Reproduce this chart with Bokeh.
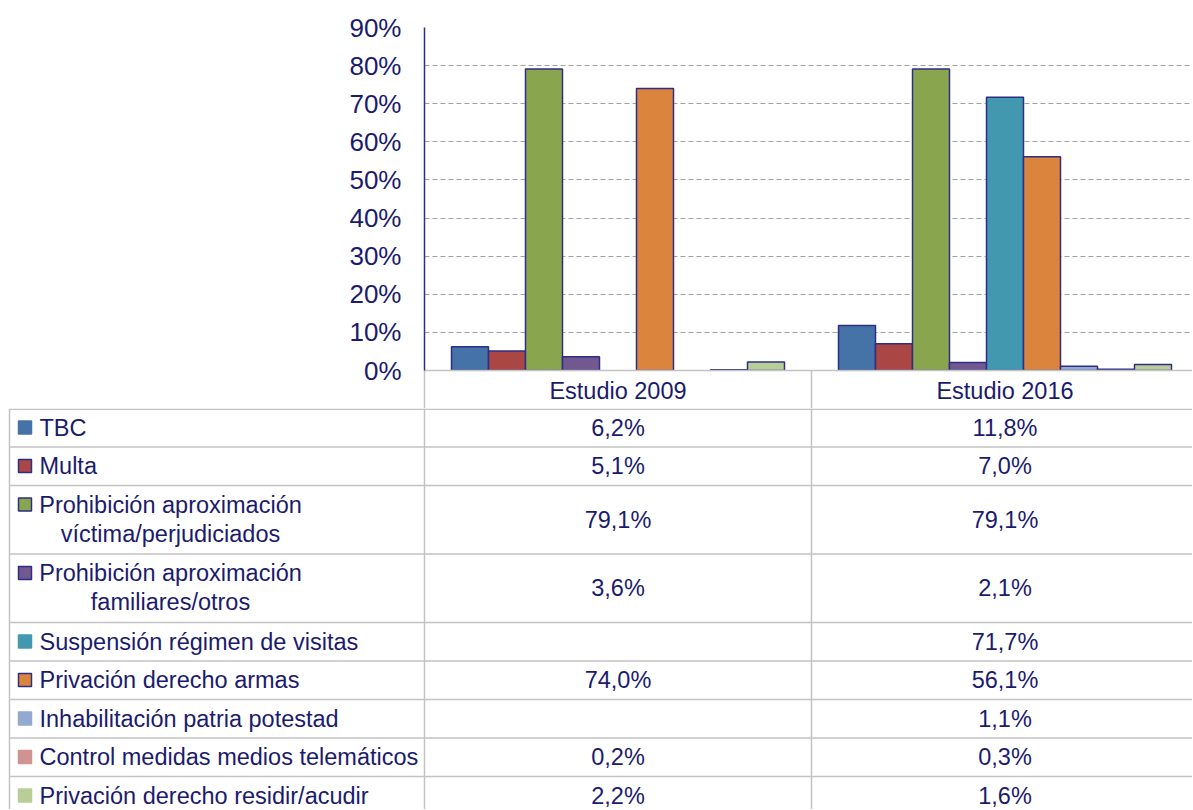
from bokeh.plotting import figure
from bokeh.models import Range1d, FixedTicker, NumeralTickFormatter, ColumnDataSource
from bokeh.embed import file_html
from bokeh.resources import INLINE
from bokeh.core.properties import value

# ---------------- data ----------------
years = ["Estudio 2009", "Estudio 2016"]
series = [
    "TBC",
    "Multa",
    "Prohibición aproximación víctima/perjudiciados",
    "Prohibición aproximación familiares/otros",
    "Suspensión régimen de visitas",
    "Privación derecho armas",
    "Inhabilitación patria potestad",
    "Control medidas medios telemáticos",
    "Privación derecho residir/acudir",
]
label_lines = [
    ["TBC"],
    ["Multa"],
    ["Prohibición aproximación", "víctima/perjudiciados"],
    ["Prohibición aproximación", "familiares/otros"],
    ["Suspensión régimen de visitas"],
    ["Privación derecho armas"],
    ["Inhabilitación patria potestad"],
    ["Control medidas medios telemáticos"],
    ["Privación derecho residir/acudir"],
]
v2009 = [6.2, 5.1, 79.1, 3.6, None, 74.0, None, 0.2, 2.2]
v2016 = [11.8, 7.0, 79.1, 2.1, 71.7, 56.1, 1.1, 0.3, 1.6]
y_ticks = [0, 10, 20, 30, 40, 50, 60, 70, 80, 90]

# ---------------- style ----------------
colors = ["#4572A7", "#AA4643", "#89A54E", "#71588F", "#4198AF",
          "#DB843D", "#93A9CF", "#D19392", "#B9CD96"]
NAVY = "#1B1B6E"
BORDER = "#2E2E85"
legend_border = [False, True, True, True, False, True, False, False, False]
FONT = value("Liberation Sans")
FONT_SIZE = value("23.5px")
GRAYLINE = "#C3C3C3"

W = 1192
HEADER_H = 38
TOP = 27
FRAME_H = 343
H1 = TOP + FRAME_H + HEADER_H
H2 = 809 - H1
CAT_PX = 387.0          # pixel width of one category
BAR_PX = 37.0           # pixel width of one bar
FRAME_L = 424
BW = BAR_PX / CAT_PX

# ---------------- chart ----------------
xs, tops, fills, lines = [], [], [], []
for g, vals in enumerate([v2009, v2016]):
    for i, v in enumerate(vals):
        if v is None:
            continue
        xs.append(g + (i - (len(series) - 1) / 2) * BW)
        tops.append(v / 100.0)
        fills.append(colors[i])
        lines.append(BORDER)
src = ColumnDataSource(dict(x=xs, top=tops, color=fills, line=lines))

p1 = figure(width=W, height=H1,
            x_range=Range1d(-0.5, -0.5 + (W - FRAME_L) / CAT_PX),
            y_range=Range1d(0, 0.9),
            output_backend="svg", toolbar_location=None,
            min_border_left=FRAME_L, min_border_right=0,
            min_border_top=TOP, min_border_bottom=HEADER_H)
p1.outline_line_color = None
p1.vbar(x="x", top="top", bottom=0, width=BW, fill_color="color",
        line_color="line", line_width=1.5, source=src)

ax = p1.yaxis[0]
ax.ticker = FixedTicker(ticks=[t / 100 for t in y_ticks])
ax.formatter = NumeralTickFormatter(format="0%")
ax.axis_line_color = BORDER
ax.axis_line_width = 1.5
ax.major_tick_line_color = None
ax.minor_tick_line_color = None
ax.major_tick_out = 0
ax.major_label_standoff = 23
ax.major_label_text_font = "Liberation Sans"
ax.major_label_text_font_size = "26px"
ax.major_label_text_color = NAVY

xa = p1.xaxis[0]
xa.ticker = FixedTicker(ticks=[0, 1], minor_ticks=[-0.5, 0.5, 1.5])
xa.major_label_overrides = {0: years[0], 1: years[1]}
xa.axis_line_color = GRAYLINE
xa.axis_line_width = 1.5
xa.major_tick_line_color = None
xa.major_tick_out = 0
xa.major_tick_in = 0
xa.minor_tick_line_color = GRAYLINE
xa.minor_tick_line_width = 1.5
xa.minor_tick_out = HEADER_H
xa.minor_tick_in = 0
xa.major_label_standoff = -31
xa.major_label_text_font = "Liberation Sans"
xa.major_label_text_font_size = "23.5px"
xa.major_label_text_color = NAVY

p1.xgrid.visible = False
p1.ygrid.grid_line_color = "#A3A3A3"
p1.ygrid.grid_line_dash = "5 3"
p1.ygrid.grid_line_width = 1.2

# ---------------- data table ----------------
p2 = figure(width=W, height=H2, x_range=Range1d(0, W), y_range=Range1d(H2, 0),
            x_axis_type=None, y_axis_type=None,
            output_backend="svg", toolbar_location=None, min_border=0)
p2.outline_line_color = None
p2.grid.visible = False

ROW1 = 38.5
ROW2 = 68.5
TABLE_L = 9
COL1 = FRAME_L
COL2 = FRAME_L + CAT_PX
centers = [FRAME_L + CAT_PX / 2, FRAME_L + CAT_PX * 1.5]

row_tops = []
y = 0.0
for ll in label_lines:
    row_tops.append(y)
    y += ROW1 if len(ll) == 1 else ROW2
row_bottoms = [t + (ROW1 if len(ll) == 1 else ROW2) for t, ll in zip(row_tops, label_lines)]

# grid lines of table
x0 = [TABLE_L] + [TABLE_L] * len(row_bottoms) + [TABLE_L, COL1, COL2]
y0 = [0.75] + row_bottoms + [0, 0, 0]
x1 = [W] + [W] * len(row_bottoms) + [TABLE_L, COL1, COL2]
y1 = [0.75] + row_bottoms + [H2, H2, H2]
p2.segment(x0=x0, y0=y0, x1=x1, y1=y1, line_color=GRAYLINE, line_width=1.5)

# row labels
sx, sy, sc, sl = [], [], [], []
lx, ly, lt = [], [], []
cx, cy, ct = [], [], []
for i, (ll, top) in enumerate(zip(label_lines, row_tops)):
    sx.append(24.5)
    sy.append(top + 19)
    sc.append(colors[i])
    sl.append(BORDER if legend_border[i] else colors[i])
    if len(ll) == 1:
        lx.append(39); ly.append(top + 19); lt.append(ll[0])
    else:
        for k, line in enumerate(ll):
            cx.append(170); cy.append(top + 19 + 29 * k); ct.append(line)
p2.rect(x=sx, y=sy, width=13, height=13, fill_color=sc, line_color=sl, line_width=1.5)
p2.text(x=lx, y=ly, text=lt, text_align="left", text_baseline="middle",
        text_font=FONT, text_font_size=FONT_SIZE, text_color=NAVY)
p2.text(x=cx, y=cy, text=ct, text_align="center", text_baseline="middle",
        text_font=FONT, text_font_size=FONT_SIZE, text_color=NAVY)

# values
vx, vy, vt = [], [], []
for g, vals in enumerate([v2009, v2016]):
    for i, v in enumerate(vals):
        if v is None:
            continue
        vx.append(centers[g])
        vy.append((row_tops[i] + row_bottoms[i]) / 2)
        vt.append(f"{v:.1f}".replace(".", ",") + "%")
p2.text(x=vx, y=vy, text=vt, text_align="center", text_baseline="middle",
        text_font=FONT, text_font_size=FONT_SIZE, text_color=NAVY)

open("out.html", "w").write(file_html([p1, p2], INLINE))
